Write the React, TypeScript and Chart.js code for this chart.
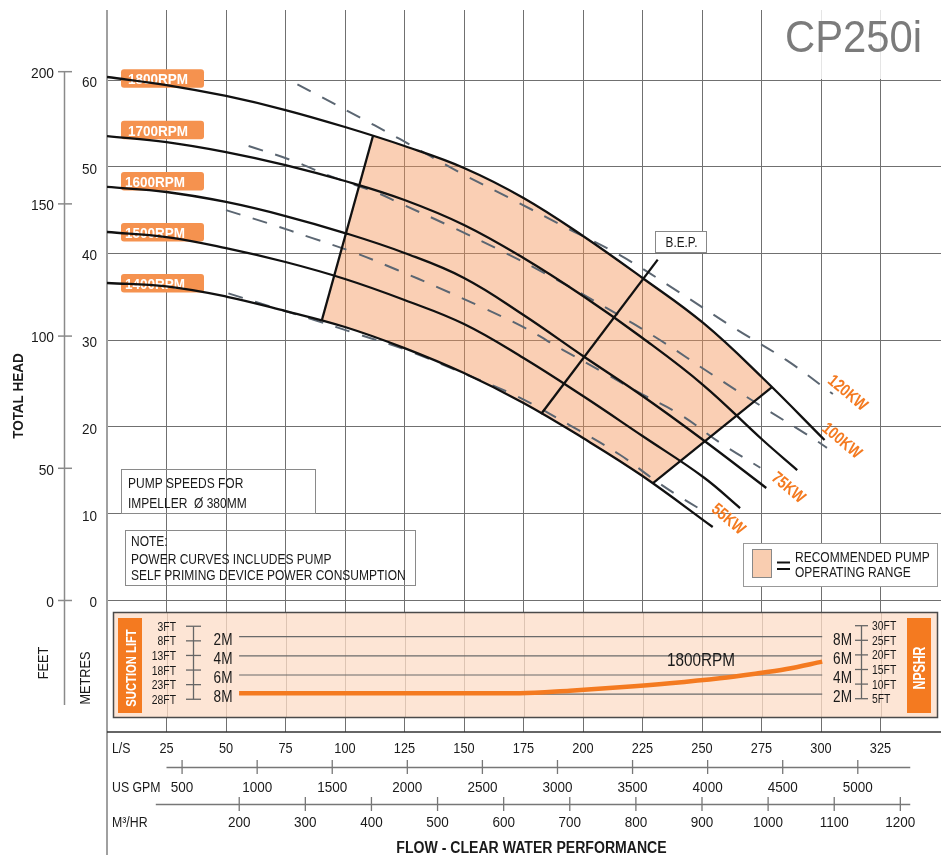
import { useEffect, useRef } from "react";
import { Chart, registerables } from "chart.js";

Chart.register(...registerables);

type P = [number, number];

// Flow in L/S, total head in metres
const rpm1800: P[] = [[0, 60.35], [25, 59.42], [50, 58.16], [75, 56.54], [100, 54.58], [125, 52.39], [150, 49.86], [175, 46.4], [200, 42.02], [225, 37.18], [250.5, 31.99], [275.5, 25.65], [301.5, 18.5]];
const rpm1700: P[] = [[0, 53.54], [25, 52.85], [50, 51.7], [75, 50.2], [100, 48.36], [125, 46.17], [150, 43.29], [175, 39.48], [200, 35.1], [225, 30.26], [250.5, 24.84], [275.5, 18.5], [290, 15.04]];
const rpm1600: P[] = [[0, 47.67], [25, 47.09], [50, 45.94], [75, 44.32], [100, 42.36], [125, 40.06], [150, 37.18], [175, 32.91], [200, 28.18], [225, 23.57], [250.5, 18.5], [277, 12.97]];
const rpm1500: P[] = [[0, 42.48], [25, 41.9], [50, 40.63], [75, 39.02], [100, 37.06], [125, 34.64], [150, 31.87], [175, 27.95], [200, 23.57], [225, 18.96], [250.5, 14.24], [266, 10.66]];
const rpm1400: P[] = [[0, 36.6], [25, 36.2], [50, 35.04], [75, 33.37], [100, 31.53], [125, 29.1], [150, 26.22], [175, 22.77], [200, 18.73], [225, 14.35], [254.5, 8.47]];

// Power curves
const kw120: P[] = [[80, 59.5], [102, 56.3], [123, 53.2], [148.5, 49.3], [170.5, 46.2], [193.5, 42.9], [215.5, 39.8], [239.5, 35.7], [263, 31.5], [285.5, 27.7], [305, 23.8]];
const kw100: P[] = [[59.5, 52.4], [77, 50.8], [95, 48.8], [113.5, 47.0], [123, 45.8], [143, 43.3], [165, 40.4], [187.5, 37.2], [210, 33.7], [232.5, 30.0], [254.5, 26.0], [275.5, 22.3], [296.5, 18.7], [302.5, 17.6]];
const kw75: P[] = [[50, 45.0], [67.5, 43.5], [86, 41.8], [104, 40.1], [122, 38.1], [139, 36.1], [157.5, 33.8], [175, 31.5], [191.5, 28.9], [208.5, 26.3], [224, 23.9], [241, 21.4], [257.5, 18.2], [274.5, 15.3]];
const kw55: P[] = [[51, 35.4], [68.5, 33.9], [87.5, 32.3], [106.5, 30.6], [125.5, 28.9], [150.5, 26.1], [172.5, 23.5], [194.5, 20.2], [215.5, 16.8], [229.5, 14.0], [241, 11.9], [252.5, 10.0]];

// Recommended operating range boundaries and best efficiency line
const rangeLeft: P[] = [[90.3, 32.33], [111.8, 53.6]];
const rangeRight: P[] = [[279.4, 24.6], [229.4, 13.54]];
const bepLine: P[] = [[182.4, 21.5], [231.4, 39.3]];

// NPSHR (metres) vs flow (L/S)
const npshrFlow = [55.5, 173.5, 194.5, 215.5, 236.5, 257.5, 271.5, 285.5, 300.5];
const npshrHead = [2.09, 2.09, 2.36, 2.71, 3.13, 3.65, 4.1, 4.62, 5.39];

const rpmLabels = ["1800RPM", "1700RPM", "1600RPM", "1500RPM", "1400RPM"];
const kwLabels = ["120KW", "100KW", "75KW", "55KW"];

const lsTicks = [25, 50, 75, 100, 125, 150, 175, 200, 225, 250, 275, 300, 325];
const gpmTicks = [500, 1000, 1500, 2000, 2500, 3000, 3500, 4000, 4500, 5000];
const m3hTicks = [200, 300, 400, 500, 600, 700, 800, 900, 1000, 1100, 1200];
const headMTicks = [0, 10, 20, 30, 40, 50, 60];
const headFtTicks = [0, 50, 100, 150, 200];
const suctionLiftFt = [3, 8, 13, 18, 23, 28];
const suctionLiftM = [2, 4, 6, 8];
const npshrFt = [5, 10, 15, 20, 25, 30];
const npshrM = [2, 4, 6, 8];

const FT = 0.3048;
const GPM_PER_LS = 15.85;
const M3H_PER_LS = 3.6;
const SUCTION_ZERO = 10; // suction lift 0 m sits at NPSHR 10 m on the panel scale

const FONT = '"Liberation Sans", Arial, sans-serif';
const ORANGE = "#f47a20";

type TO = { bold?: boolean; color?: string; align?: CanvasTextAlign; sx?: number; rot?: number };
function txt(ctx: CanvasRenderingContext2D, s: string, x: number, cy: number, size: number, o: TO = {}) {
  const { bold = false, color = "#1a1a1a", align = "left", sx = 1, rot = 0 } = o;
  ctx.save();
  ctx.translate(x, cy);
  if (rot) ctx.rotate(rot);
  ctx.scale(sx, 1);
  ctx.font = `${bold ? "bold " : ""}${size}px ${FONT}`;
  ctx.fillStyle = color;
  ctx.textAlign = align;
  ctx.textBaseline = "alphabetic";
  ctx.fillText(s, 0, size * 0.358);
  ctx.restore();
}
function ln(ctx: CanvasRenderingContext2D, x1: number, y1: number, x2: number, y2: number, color: string, w: number) {
  ctx.save();
  ctx.strokeStyle = color;
  ctx.lineWidth = w;
  ctx.beginPath();
  ctx.moveTo(x1, y1);
  ctx.lineTo(x2, y2);
  ctx.stroke();
  ctx.restore();
}
function rrect(ctx: CanvasRenderingContext2D, x: number, y: number, w: number, h: number, r: number, fill: string) {
  ctx.save();
  ctx.fillStyle = fill;
  ctx.beginPath();
  ctx.moveTo(x + r, y);
  ctx.arcTo(x + w, y, x + w, y + h, r);
  ctx.arcTo(x + w, y + h, x, y + h, r);
  ctx.arcTo(x, y + h, x, y, r);
  ctx.arcTo(x, y, x + w, y, r);
  ctx.closePath();
  ctx.fill();
  ctx.restore();
}

const decor = {
  id: "decor",
  beforeDatasetsDraw(chart: any) {
    const ctx: CanvasRenderingContext2D = chart.ctx;
    const xs = chart.scales.x, ys = chart.scales.y, yn = chart.scales.yN;
    const X = (v: number) => xs.getPixelForValue(v);
    const Y = (v: number) => ys.getPixelForValue(v);
    const N = (v: number) => yn.getPixelForValue(v);
    const { left, right, top } = chart.chartArea;

    // veil behind title
    ctx.fillStyle = "rgba(255,255,255,0.82)";
    ctx.fillRect(780, top, right - 780, Y(60) - top - 1);

    // bottom NPSH panel
    ctx.fillStyle = "#fde5d5";
    ctx.fillRect(113, 612, 825, 106);
    lsTicks.forEach((v) => {
      const x = Math.round(X(v)) + 0.5;
      if (x > 113 && x < 938) ln(ctx, x, 612, x, 718, "rgba(110,80,60,0.22)", 1);
    });
    ctx.strokeStyle = "#4a4a4a";
    ctx.lineWidth = 1.5;
    ctx.strokeRect(113.5, 612.5, 824, 105);
    ctx.fillStyle = ORANGE;
    ctx.fillRect(118, 618, 24, 95);
    ctx.fillRect(907, 618, 24, 95);
    txt(ctx, "SUCTION LIFT", 130.5, 668, 15, { bold: true, color: "#fff", align: "center", sx: 0.75, rot: -Math.PI / 2 });
    txt(ctx, "NPSHR", 919, 668, 17, { bold: true, color: "#fff", align: "center", sx: 0.72, rot: -Math.PI / 2 });

    const x0 = X(npshrFlow[0]), x1 = X(npshrFlow[npshrFlow.length - 1]);
    npshrM.forEach((m) => ln(ctx, x0, N(m), x1, N(m), "#6a6a6a", 1.2));
    // suction lift scale (left)
    const xl = 193.5;
    ln(ctx, xl, N(SUCTION_ZERO - suctionLiftFt[0] * FT), xl, N(SUCTION_ZERO - suctionLiftFt[suctionLiftFt.length - 1] * FT), "#666", 1.3);
    suctionLiftFt.forEach((f) => {
      const y = N(SUCTION_ZERO - f * FT);
      ln(ctx, 186, y, 201, y, "#666", 1.3);
      txt(ctx, `${f}FT`, 176, y, 12.5, { align: "right", sx: 0.83 });
    });
    suctionLiftM.forEach((m) => txt(ctx, `${m}M`, 232.5, N(SUCTION_ZERO - m) + 2.5, 16, { align: "right", sx: 0.85 }));
    // NPSHR scale (right)
    const xr = 861.5;
    ln(ctx, xr, N(npshrFt[npshrFt.length - 1] * FT), xr, N(npshrFt[0] * FT), "#666", 1.3);
    npshrFt.forEach((f) => {
      const y = N(f * FT);
      ln(ctx, 855, y, 868, y, "#666", 1.3);
      txt(ctx, `${f}FT`, 872, y, 12.5, { sx: 0.83 });
    });
    npshrM.forEach((m) => txt(ctx, `${m}M`, 852, N(m) + 2.5, 16, { align: "right", sx: 0.85 }));

    // RPM label tags
    const tagTops = [69.3, 120.7, 172, 223, 274];
    const tagText = [128, 128, 125, 125, 125];
    rpmLabels.forEach((s, i) => {
      rrect(ctx, 121, tagTops[i], 83, 18.5, 3, "#f5924f");
      txt(ctx, s, tagText[i], tagTops[i] + 9.5, 15, { bold: true, color: "#fff", sx: 0.9 });
    });

    // info boxes
    ctx.strokeStyle = "#8a8a8a";
    ctx.lineWidth = 1;
    ctx.strokeRect(121.5, 469.5, 194, 44);
    txt(ctx, "PUMP SPEEDS FOR", 128, 482.5, 15, { sx: 0.8 });
    txt(ctx, "IMPELLER  Ø 380MM", 128, 502.5, 15, { sx: 0.8 });
    ctx.strokeRect(125.5, 530.5, 290, 55);
    txt(ctx, "NOTE:", 131, 541, 15, { sx: 0.8 });
    txt(ctx, "POWER CURVES INCLUDES PUMP", 131, 558.5, 15, { sx: 0.8 });
    txt(ctx, "SELF PRIMING DEVICE POWER CONSUMPTION", 131, 575, 15, { sx: 0.8 });

    // legend
    ctx.fillStyle = "#fff";
    ctx.fillRect(743, 543, 195, 44);
    ctx.strokeStyle = "#999";
    ctx.strokeRect(743.5, 543.5, 194, 43);
    ctx.fillStyle = "#f9cdb0";
    ctx.fillRect(752, 549, 20, 29);
    ctx.strokeStyle = "#888";
    ctx.strokeRect(752.5, 549.5, 19, 28);
    ln(ctx, 777, 562.5, 790, 562.5, "#111", 2);
    ln(ctx, 777, 569, 790, 569, "#111", 2);
    txt(ctx, "RECOMMENDED PUMP", 795, 556.7, 15, { sx: 0.8 });
    txt(ctx, "OPERATING RANGE", 795, 571.7, 15, { sx: 0.8 });

    // left axes
    ln(ctx, left, top, left, 855, "#a0a0a0", 2);
    const xf = 64.5;
    ln(ctx, xf, Y(headFtTicks[headFtTicks.length - 1] * FT), xf, 705, "#8a8a8a", 1.5);
    headFtTicks.forEach((f) => {
      const y = Y(f * FT);
      ln(ctx, 58, y, 72, y, "#8a8a8a", 1.5);
      txt(ctx, `${f}`, 54, y + 1, 15, { align: "right", sx: 0.92 });
    });
    headMTicks.forEach((m) => txt(ctx, `${m}`, 97, Y(m) + 1.5, 15, { align: "right", sx: 0.9 }));
    txt(ctx, "TOTAL HEAD", 17.5, 396, 15, { bold: true, align: "center", sx: 0.9, rot: -Math.PI / 2 });
    txt(ctx, "FEET", 43, 663, 15, { align: "center", sx: 0.85, rot: -Math.PI / 2 });
    txt(ctx, "METRES", 85, 678, 15, { align: "center", sx: 0.85, rot: -Math.PI / 2 });

    // bottom axes
    ln(ctx, left, 732, right, 732, "#333", 1.5);
    lsTicks.forEach((v) => txt(ctx, `${v}`, X(v), 748, 15, { align: "center", sx: 0.85 }));
    txt(ctx, "L/S", 112, 748, 15, { sx: 0.82 });
    txt(ctx, "US GPM", 112, 787, 15, { sx: 0.82 });
    txt(ctx, "M³/HR", 112, 822, 15, { sx: 0.82 });
    ln(ctx, X(25), 767.5, X(337.5), 767.5, "#777", 1.5);
    gpmTicks.forEach((g) => {
      const x = X(g / GPM_PER_LS);
      ln(ctx, x, 760, x, 774, "#777", 1.3);
      txt(ctx, `${g}`, x, 787, 15, { align: "center", sx: 0.9 });
    });
    ln(ctx, X(20.5), 804.5, X(337.5), 804.5, "#777", 1.5);
    m3hTicks.forEach((q) => {
      const x = X(q / M3H_PER_LS);
      ln(ctx, x, 797, x, 811, "#777", 1.3);
      txt(ctx, `${q}`, x, 822, 15, { align: "center", sx: 0.9 });
    });
    txt(ctx, "FLOW - CLEAR WATER PERFORMANCE", 531.5, 847.5, 16, { bold: true, align: "center", sx: 0.88 });
  },
  afterDatasetsDraw(chart: any) {
    const ctx: CanvasRenderingContext2D = chart.ctx;
    const kwPos: P[] = [[848.3, 392.3], [842.5, 440], [789, 487], [729, 518.5]];
    kwLabels.forEach((s, i) =>
      txt(ctx, s, kwPos[i][0], kwPos[i][1], 17, { bold: true, color: ORANGE, align: "center", sx: 0.81, rot: (40 * Math.PI) / 180 })
    );
    ctx.fillStyle = "#fff";
    ctx.fillRect(655.5, 231.5, 51, 21);
    ctx.strokeStyle = "#888";
    ctx.lineWidth = 1;
    ctx.strokeRect(655.5, 231.5, 51, 21);
    txt(ctx, "B.E.P.", 681.5, 242, 14, { align: "center", sx: 0.84 });
    txt(ctx, "1800RPM", 701, 659.5, 18, { align: "center", sx: 0.85 });
    txt(ctx, "CP250i", 785, 36.5, 44, { color: "#7b7b7b", sx: 0.95 });
  },
};

export default function App() {
  const ref = useRef<HTMLCanvasElement>(null);
  useEffect(() => {
    const canvas = ref.current!;
    const xy = (a: P[]) => a.map(([x, y]) => ({ x, y }));
    const polygon: P[] = [
      rangeLeft[1],
      ...rpm1800.filter(([l]) => l > rangeLeft[1][0] && l < rangeRight[0][0]),
      rangeRight[0],
      rangeRight[1],
      ...rpm1400.filter(([l]) => l > rangeLeft[0][0] && l < rangeRight[1][0]).reverse(),
      rangeLeft[0],
    ];
    const solid = (d: P[], order = 1, tension = 0.4) => ({
      data: xy(d),
      borderColor: "#111",
      borderWidth: 2.3,
      fill: false,
      order,
      tension,
    });
    const dashed = (d: P[]) => ({
      data: xy(d),
      borderColor: "#5b6672",
      borderWidth: 2,
      borderDash: [15, 13],
      fill: false,
      order: 5,
      tension: 0.4,
    });
    const datasets: any[] = [
      {
        data: xy(polygon),
        fill: "shape",
        backgroundColor: "rgba(243,148,88,0.45)",
        borderWidth: 0,
        borderColor: "rgba(0,0,0,0)",
        tension: 0,
        order: 10,
      },
      dashed(kw120),
      dashed(kw100),
      dashed(kw75),
      dashed(kw55),
      solid(rpm1800),
      solid(rpm1700),
      solid(rpm1600),
      solid(rpm1500),
      solid(rpm1400),
      solid(rangeLeft, 1, 0),
      solid(rangeRight, 1, 0),
      solid(bepLine, 1, 0),
      {
        data: npshrFlow.map((x, i) => ({ x, y: npshrHead[i] })),
        yAxisID: "yN",
        borderColor: ORANGE,
        borderWidth: 4.5,
        fill: false,
        order: 0,
        cubicInterpolationMode: "monotone",
      },
    ];
    const chart = new Chart(canvas, {
      type: "line",
      data: { datasets },
      options: {
        animation: false,
        responsive: false,
        layout: { padding: { left: 107, top: 10, right: 0, bottom: 123 } },
        elements: { point: { radius: 0, hoverRadius: 0 } },
        plugins: { legend: { display: false }, tooltip: { enabled: false } },
        events: [],
        scales: {
          x: {
            type: "linear",
            min: 0,
            max: 350.42,
            ticks: { display: false },
            border: { display: false },
            grid: { color: "#707070", lineWidth: 1, drawTicks: false },
            afterBuildTicks: (s: any) => {
              s.ticks = lsTicks.map((value) => ({ value }));
            },
            afterFit: (s: any) => {
              s.height = 0;
            },
          },
          y: {
            type: "linear",
            min: -15.16,
            max: 68.07,
            ticks: { display: false },
            border: { display: false },
            grid: { color: "#707070", lineWidth: 1, drawTicks: false },
            afterBuildTicks: (s: any) => {
              s.ticks = headMTicks.map((value) => ({ value }));
            },
            afterFit: (s: any) => {
              s.width = 0;
            },
          },
          yN: {
            type: "linear",
            display: false,
            min: -1.952,
            max: 73.41,
          },
        },
      } as any,
      plugins: [decor],
    });
    return () => chart.destroy();
  }, []);
  return (
    <div style={{ position: "fixed", left: 0, top: 0, width: 941, height: 855, background: "#fff" }}>
      <canvas ref={ref} width={941} height={855} style={{ display: "block", width: 941, height: 855 }} />
    </div>
  );
}
